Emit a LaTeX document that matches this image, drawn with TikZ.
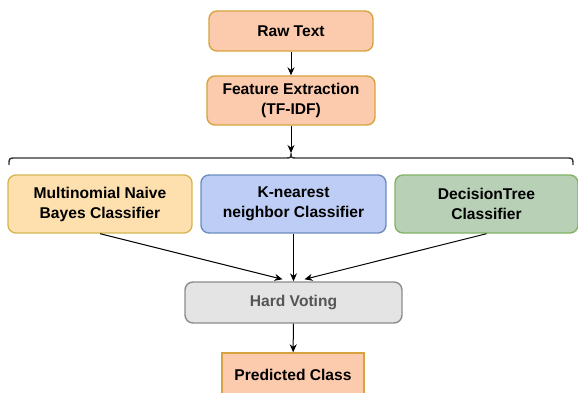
\documentclass[tikz,border=0pt]{standalone}
\usepackage{fontspec}
\setmainfont{Liberation Sans}
\usepackage{xcolor}
\usetikzlibrary{arrows.meta, calc}

\definecolor{peachfill}{HTML}{FCCBAD}
\definecolor{peachline}{HTML}{D6A33E}
\definecolor{sandfill}{HTML}{FDE0AE}
\definecolor{sandline}{HTML}{D6B656}
\definecolor{bluefill}{HTML}{BDCDF5}
\definecolor{blueline}{HTML}{6C8EBF}
\definecolor{greenfill}{HTML}{B8D0B6}
\definecolor{greenline}{HTML}{82B366}
\definecolor{greyfill}{HTML}{E4E4E4}
\definecolor{greyline}{HTML}{8C8C8C}
\definecolor{greytext}{HTML}{555555}

\tikzset{
  box/.style={draw, line width=1.4pt, rounded corners=8pt, inner sep=0pt,
    align=center, font=\fontsize{15.6}{20}\selectfont\bfseries},
  flow/.style={line width=1pt, -{Stealth[length=8pt,width=7pt]}}
}

\begin{document}
\begin{tikzpicture}[x=1pt,y=-1pt]
\useasboundingbox (0,0) rectangle (578,393);
% Pipeline boxes
\node[box, fill=peachfill, draw=peachline, minimum width=164pt, minimum height=40pt]
  (raw) at (291,31) {Raw Text};
\node[box, fill=peachfill, draw=peachline, minimum width=168pt, minimum height=49pt]
  (feat) at (291,100.5) {Feature Extraction\\(TF-IDF)};
% Classifiers
\node[box, fill=sandfill, draw=sandline, minimum width=184pt, minimum height=58pt]
  (mnb) at (100,204) {Multinomial Naive\\Bayes Classifier};
\node[box, fill=bluefill, draw=blueline, minimum width=185pt, minimum height=58pt]
  (knn) at (293.5,204) {K-nearest\\neighbor Classifier};
\node[box, fill=greenfill, draw=greenline, minimum width=183pt, minimum height=58pt]
  (dt) at (486.5,204) {DecisionTree\\Classifier};
% Voting and output
\node[box, fill=greyfill, draw=greyline, text=greytext, minimum width=217pt, minimum height=41pt]
  (vote) at (293.5,302.5) {Hard Voting};
\node[box, rounded corners=0pt, fill=peachfill, draw=peachline, minimum width=142pt, minimum height=44pt]
  (pred) at (293,375) {Predicted Class};
% Brace
\coordinate (tip) at (291,153);
\draw[line width=1.4pt, color=black!80]
  (9,165) .. controls (9,158) .. (16,158) -- (285,158)
  .. controls (291,158) .. (tip) .. controls (291,158) .. (297,158)
  -- (566,158) .. controls (573,158) .. (573,165);
% Connectors
\coordinate (inL) at ($(vote.north)+(-11,-2)$);
\coordinate (inR) at ($(vote.north)+(11,-2)$);
\draw[flow] (raw) -- (feat);
\draw[flow] (feat) -- (tip);
\draw[flow] (mnb.south) -- (inL);
\draw[flow] (knn.south) -- (vote.north);
\draw[flow] (dt.south) -- (inR);
\draw[flow] (vote) -- (pred);
\end{tikzpicture}
\end{document}
